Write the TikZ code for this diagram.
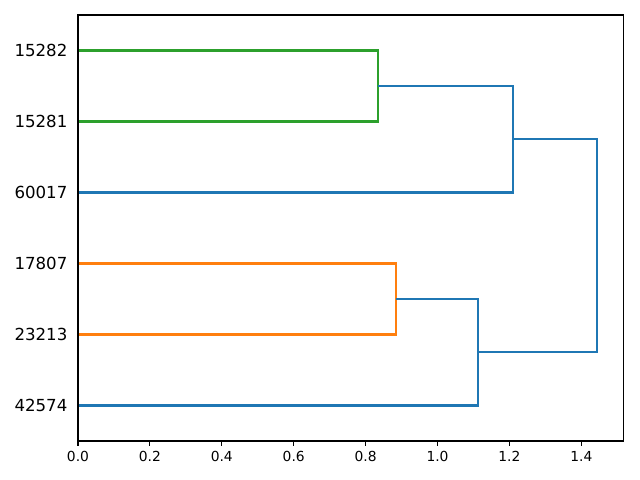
\documentclass[tikz,border=0pt]{standalone}
\usepackage{fontspec}
\setmainfont{DejaVu Sans}
\usetikzlibrary{positioning}
\definecolor{cblue}{HTML}{1F77B4}
\definecolor{corange}{HTML}{FF7F0E}
\definecolor{cgreen}{HTML}{2CA02C}
\tikzset{
  link/.style={draw=#1, line width=1.5pt},
  link/.default=cblue,
  frame/.style={draw=black, line width=0.8pt},
  leaflabel/.style={anchor=east, inner sep=0pt, xshift=-7.5pt, font=\fontsize{12}{14}\selectfont},
  ticklabel/.style={anchor=north, inner sep=0pt, yshift=-7pt, font=\fontsize{10}{12}\selectfont},
}

\begin{document}
\begin{tikzpicture}[x=3.595in, y=0.071in]
  \useasboundingbox (-0.78in,-0.39in) rectangle (5.62in,4.41in);
  % leaves, bottom to top
  \foreach \name/\yy in {42574/5, 23213/15, 17807/25, 60017/35, 15281/45, 15282/55} {
    \coordinate (l\name) at (0,\yy);
    \node[leaflabel] (t\name) at (l\name) {\name};
  }
  % merge points
  \coordinate (mgreen) at (0.8333,50);
  \coordinate (morange) at (0.8833,20);
  \coordinate (mupper) at (1.2111,42.5);
  \coordinate (mlower) at (1.1139,12.5);
  \coordinate (mroot) at (1.4444,27.5);
  \draw[link=cgreen] (l15282) -| (mgreen) |- (l15281);
  \draw[link=corange] (l17807) -| (morange) |- (l23213);
  \draw[link] (mgreen) -| (mupper) |- (l60017);
  \draw[link] (morange) -| (mlower) |- (l42574);
  \draw[link] (mupper) -| (mroot) |- (mlower);
  % axes
  \draw[frame] (0,0) rectangle (1.5167,60);
  \foreach \xx/\lab in {0/0.0, 0.2/0.2, 0.4/0.4, 0.6/0.6, 0.8/0.8, 1.0/1.0, 1.2/1.2, 1.4/1.4} {
    \draw[frame] (\xx,0) -- ++(0,-3.5pt);
    \node[ticklabel] (x\lab) at (\xx,0) {\lab};
  }
\end{tikzpicture}
\end{document}
